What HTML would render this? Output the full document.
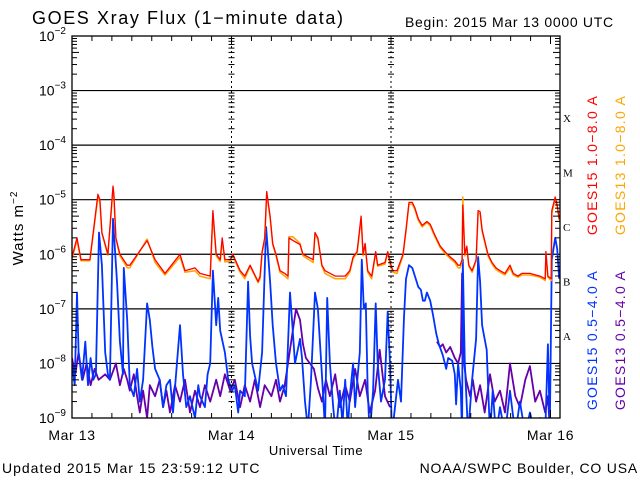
<!DOCTYPE html>
<html><head><meta charset="utf-8"><style>
body{margin:0;background:#fff;}
svg{display:block;font-family:"Liberation Sans",sans-serif;}
</style></head><body>
<svg id="chart" width="640" height="480" viewBox="0 0 640 480">
<defs><clipPath id="pc"><rect x="72" y="36" width="488" height="382"/></clipPath></defs>
<rect width="640" height="480" fill="#fff"/>
<text x="32" y="24" font-size="18" letter-spacing="1.6">GOES Xray Flux (1−minute data)</text>
<text x="405" y="27" font-size="14" letter-spacing="0.7">Begin:  2015 Mar 13 0000 UTC</text>
<g id="axes"></g>
<g id="series" clip-path="url(#pc)"></g>
<g id="frame"></g>
<text transform="translate(23,228) rotate(-90)" text-anchor="middle" font-size="15" letter-spacing="1">Watts m<tspan dy="-6" font-size="10">−2</tspan></text>
<text x="316" y="455" text-anchor="middle" font-size="13" letter-spacing="0.6">Universal Time</text>
<text x="2" y="473" font-size="14" letter-spacing="1">Updated 2015 Mar 15 23:59:12 UTC</text>
<text x="638" y="473" text-anchor="end" font-size="14" letter-spacing="0.8">NOAA/SWPC Boulder, CO USA</text>
<text transform="translate(597,165) rotate(-90)" text-anchor="middle" font-size="14" letter-spacing="1.3" fill="#ff0000">GOES15 1.0−8.0 A</text>
<text transform="translate(625,165) rotate(-90)" text-anchor="middle" font-size="14" letter-spacing="1.3" fill="#ffa500">GOES13 1.0−8.0 A</text>
<text transform="translate(597,340) rotate(-90)" text-anchor="middle" font-size="14" letter-spacing="1.3" fill="#0033ff">GOES15 0.5−4.0 A</text>
<text transform="translate(625,340) rotate(-90)" text-anchor="middle" font-size="14" letter-spacing="1.3" fill="#6600aa">GOES13 0.5−4.0 A</text>
</svg>
<script>
const yExps=[-2,-3,-4,-5,-6,-7,-8,-9];
const dayLabels=["Mar 13","Mar 14","Mar 15","Mar 16"];
const classLabels=["X","M","C","B","A"];
const redT=[0,0.75,1.35,2.7,3.9,4.2,4.5,5.4,6.17,6.3,6.6,7.2,8.3,8.7,11.3,12.5,14.0,16.25,17.0,18.5,19.26,20.8,21.2,21.7,22.3,22.6,23.0,23.8,24.2,25.3,26.0,26.8,28.0,28.3,28.6,29.0,29.3,29.8,30.2,30.7,31.3,32.0,32.5,32.65,33.25,34.3,34.76,36.3,36.56,37.0,37.6,38.07,39.6,41.1,41.8,42.3,42.9,43.5,43.8,44.1,44.5,45.1,45.7,46.0,47.1,47.5,48.0,48.3,48.9,49.8,50.26,50.7,51.2,51.6,52.1,52.7,53.4,53.9,54.6,55.4,56.1,56.9,57.6,58.1,58.4,58.7,58.8,59.1,59.4,59.7,60.2,60.8,61.1,61.4,61.7,62.1,62.6,63.2,63.8,64.4,65.15,65.9,66.4,67.1,67.7,68.9,70.4,71.2,71.3,71.6,72.1,72.2,72.7,73.0,73.3];
const redV=[-6.05,-5.7,-6.1,-6.1,-4.9,-5.0,-5.6,-6.0,-4.75,-4.9,-5.7,-6.0,-6.2,-6.2,-5.75,-6.1,-6.35,-6.0,-6.3,-6.25,-6.35,-6.4,-5.2,-6.0,-6.1,-5.7,-6.1,-6.1,-6.0,-6.3,-6.4,-6.2,-6.5,-6.4,-5.95,-5.7,-4.85,-5.3,-5.8,-6.0,-6.3,-6.35,-6.4,-5.7,-5.75,-5.82,-6.0,-6.1,-5.6,-5.7,-6.2,-6.3,-6.4,-6.4,-6.3,-6.05,-5.95,-5.3,-6.0,-5.8,-6.3,-6.4,-5.95,-6.2,-6.15,-5.95,-6.2,-6.3,-6.3,-6.0,-5.55,-5.05,-5.05,-5.15,-5.35,-5.47,-5.4,-5.45,-5.65,-5.85,-5.95,-6.05,-6.12,-6.2,-6.2,-6.1,-5.1,-6.0,-5.85,-6.2,-6.3,-6.1,-5.2,-5.22,-5.55,-5.75,-6.0,-6.15,-6.25,-6.3,-6.35,-6.2,-6.35,-6.4,-6.35,-6.35,-6.4,-6.45,-5.95,-6.4,-6.45,-5.2,-4.95,-5.1,-5.35];
const orangeV=[-6.08,-5.75,-6.12,-6.12,-4.95,-5.05,-5.62,-6.02,-4.8,-4.95,-5.72,-6.03,-6.25,-6.25,-5.72,-6.15,-6.38,-6.05,-6.33,-6.3,-6.4,-6.45,-5.25,-6.03,-6.13,-5.75,-6.14,-6.13,-6.03,-6.33,-6.45,-6.22,-6.52,-6.45,-5.98,-5.75,-4.9,-5.33,-5.82,-6.03,-6.33,-6.4,-6.45,-5.68,-5.68,-5.8,-6.03,-6.15,-5.63,-5.73,-6.22,-6.35,-6.45,-6.45,-6.33,-6.08,-5.98,-5.35,-6.03,-5.82,-6.33,-6.45,-5.98,-6.22,-6.18,-5.98,-6.25,-6.33,-6.35,-6.03,-5.58,-5.08,-5.08,-5.18,-5.38,-5.5,-5.42,-5.48,-5.68,-5.88,-5.98,-6.08,-6.15,-6.25,-6.25,-6.12,-4.95,-6.03,-5.88,-6.22,-6.33,-6.13,-5.25,-5.25,-5.58,-5.78,-6.03,-6.18,-6.28,-6.33,-6.38,-6.25,-6.38,-6.42,-6.38,-6.38,-6.42,-6.48,-5.98,-6.42,-6.48,-5.25,-5.0,-5.12,-5.38];
const blueT=[0,0.4,0.75,1.0,1.5,2.0,2.4,2.8,3.2,3.6,4.06,4.5,5.0,5.4,5.7,6.17,6.77,7.2,7.67,7.8,8.3,8.7,9.3,9.8,10.2,10.7,11.3,11.7,12.1,12.5,13.2,13.7,14.2,14.75,15.2,16.25,16.7,17.2,17.75,18.5,19.0,19.26,20.0,20.4,20.8,21.2,21.7,22.0,22.3,23.0,23.5,24.1,24.5,25.0,25.3,26.0,26.5,26.8,27.1,28.0,28.6,29.2,29.8,30.2,30.7,31.3,31.7,32.2,32.8,33.1,33.55,34.3,34.6,35.06,35.5,35.96,36.56,37.0,37.6,38.07,38.4,38.8,39.3,39.7,40.3,40.7,41.1,41.5,41.8,42.3,42.6,43.0,43.3,43.6,43.9,44.2,44.5,44.8,45.3,45.7,46.0,46.5,47.1,47.5,47.85,48.15,48.6,49.05,49.5,49.95,50.26,50.7,51.2,51.6,52.1,52.5,52.8,53.1,53.4,53.9,54.3,54.8,55.2,55.8,56.3,56.6,57.2,57.6,57.8,58.1,58.5,58.7,58.8,59.1,59.6,60.2,60.8,61.1,61.4,61.7,62.0,62.4,62.7,62.9,63.3,63.8,64.4,65.15,65.9,66.7,67.4,68.2,68.9,69.7,70.4,71.2,71.6,71.9,72.2,72.7,73.0,73.3];
const blueV=[-8.0,-8.4,-6.7,-7.8,-8.3,-7.6,-8.4,-7.9,-8.3,-8.2,-5.6,-6.2,-7.8,-8.2,-8.3,-5.35,-6.5,-7.6,-8.2,-6.25,-7.2,-8.4,-8.6,-8.1,-8.7,-8.3,-6.9,-7.2,-7.7,-8.1,-8.3,-8.8,-8.4,-8.3,-8.9,-7.3,-8.2,-8.8,-8.6,-9.0,-8.4,-8.6,-8.8,-8.2,-8.0,-6.3,-7.3,-6.8,-7.4,-7.8,-8.3,-8.5,-8.4,-8.9,-8.5,-8.6,-6.5,-7.5,-8.0,-8.5,-7.8,-5.5,-6.5,-7.3,-8.0,-8.5,-8.4,-8.6,-6.7,-7.2,-8.0,-7.55,-7.9,-8.7,-9.2,-8.3,-6.7,-7.0,-8.2,-9.2,-6.8,-8.0,-8.8,-9.3,-8.5,-9.1,-8.3,-9.2,-8.6,-8.0,-8.8,-8.2,-7.8,-6.1,-7.0,-6.9,-8.5,-9.3,-8.5,-6.9,-8.0,-8.7,-8.3,-7.05,-8.0,-9.3,-8.8,-8.3,-8.7,-7.15,-6.45,-6.2,-6.25,-6.4,-6.6,-6.65,-6.85,-6.85,-6.7,-6.85,-7.1,-7.45,-7.65,-7.85,-8.1,-7.9,-7.95,-8.2,-8.75,-8.0,-8.5,-9.3,-6.1,-8.0,-9.3,-8.3,-7.55,-6.05,-6.5,-7.3,-7.5,-7.75,-8.7,-9.3,-8.5,-9.3,-8.8,-9.3,-8.5,-9.3,-8.7,-9.3,-8.9,-9.3,-9.0,-9.3,-7.65,-9.2,-6.1,-5.7,-5.9,-6.45];
const purpleT=[0,0.5,1.0,1.6,2.2,2.8,3.4,4.0,5.0,5.7,6.6,7.2,7.8,8.3,8.7,9.3,9.8,10.2,10.7,11.3,11.7,12.5,13.2,13.7,14.2,14.75,15.5,16.25,17.0,17.75,18.5,19.26,20.0,20.8,21.7,22.3,23.0,23.8,24.5,25.3,26.0,26.8,27.5,28.3,29.0,30.0,30.7,31.3,32.0,32.5,33.1,33.7,34.3,34.76,35.2,35.8,36.4,37.0,37.6,38.2,38.8,39.6,40.3,41.1,41.8,42.6,43.3,44.1,44.8,45.6,46.3,47.1,47.85,51.0,54.9,55.4,55.8,56.3,56.9,57.6,58.1,58.5,58.7,59.0,59.3,59.9,60.3,60.8,61.4,62.1,62.9,63.6,64.4,65.15,65.9,66.7,67.4,68.2,68.9,69.7,70.4,71.2,71.6,71.9];
const purpleV=[-7.9,-8.2,-7.8,-8.3,-8.0,-8.4,-8.1,-8.3,-8.2,-8.3,-8.0,-8.4,-8.1,-8.3,-8.5,-8.2,-8.6,-8.9,-8.5,-9.0,-8.4,-8.6,-8.3,-8.8,-8.5,-8.9,-8.4,-8.7,-8.3,-8.9,-8.5,-8.8,-8.4,-8.7,-8.3,-8.6,-8.2,-8.5,-8.3,-8.8,-8.4,-8.7,-8.3,-8.8,-8.4,-8.6,-8.3,-8.7,-8.4,-8.0,-7.5,-7.0,-7.2,-7.65,-7.9,-8.0,-8.1,-8.45,-8.7,-8.3,-8.6,-8.2,-8.8,-8.4,-8.7,-8.1,-8.6,-8.3,-8.9,-8.5,-7.75,-8.6,-8.8,null,-7.6,-7.7,-7.65,-7.8,-7.7,-7.9,-8.0,-7.8,-6.35,-8.0,-8.3,-8.6,-8.3,-8.7,-8.4,-8.9,-8.2,-8.7,-8.5,-8.9,-8.0,-8.6,-8.8,-8.3,-8.05,-8.7,-8.5,-8.9,-8.6,-9.2];

const NS="http://www.w3.org/2000/svg";
const X0=72,X1=560,Y0=36,DEC=54.57,HR=6.646;
function xS(h){return X0+h*HR;}
function yS(l){return Y0+(-2-l)*DEC;}
function mk(tag,attrs,parent){const e=document.createElementNS(NS,tag);for(const k in attrs)e.setAttribute(k,attrs[k]);parent.appendChild(e);return e;}
const axes=document.getElementById('axes'),frame=document.getElementById('frame'),series=document.getElementById('series');

yExps.forEach((ex,i)=>{
  const y=yS(ex);
  if(ex<-2&&ex>-9){const l=mk('line',{x1:X0,x2:X1,y1:y,y2:y,stroke:'#000','stroke-width':1.2},axes);
  
  }
  const t=mk('text',{x:66,y:y+5,'text-anchor':'end','font-size':14},axes);
  
  
  t.textContent='10';
  const s=mk('tspan',{dy:-7,'font-size':10},t);s.textContent='−'+(-ex);
  if(ex>-9){for(let m=2;m<=9;m++){const ym=yS(ex-1+Math.log10(m));
    const len=(m===5)?7:5;
    mk('line',{x1:X0,x2:X0+len,y1:ym,y2:ym,stroke:'#000'},frame);
    mk('line',{x1:X1,x2:X1-len,y1:ym,y2:ym,stroke:'#000'},frame);
    [1,2].forEach(d=>{const xd=xS(d*24);mk('line',{x1:xd-3,x2:xd+3,y1:ym,y2:ym,stroke:'#000'},frame);});
  }}
});
[1,2].forEach(d=>{const xd=xS(d*24);const l=mk('line',{x1:xd,x2:xd,y1:Y0,y2:418,stroke:'#000','stroke-width':1,'stroke-dasharray':'2,3'},frame);

});
for(let h=0;h<=72;h+=3){const x=xS(h);const len=(h%24===0)?8:5;
  mk('line',{x1:x,x2:x,y1:Y0,y2:Y0+len,stroke:'#000'},frame);
  mk('line',{x1:x,x2:x,y1:418,y2:418-len,stroke:'#000'},frame);}
dayLabels.forEach((d,i)=>{const t=mk('text',{x:xS(i*24),y:440,'text-anchor':'middle','font-size':14,'letter-spacing':0.6},axes);
  
  
  t.textContent=d;});
classLabels.forEach((c,i)=>{const t=mk('text',{x:563,y:yS(-3.5-i)+4,'font-size':11,'font-family':'Liberation Serif, serif'},axes);
  
  
  t.textContent=c;});
mk('rect',{x:X0,y:Y0,width:X1-X0,height:418-Y0,fill:'none',stroke:'#000','stroke-width':1.3},frame);

function line(T,V,color,name,w){let d='',pen=false;
  for(let i=0;i<T.length;i++){if(V[i]===null){pen=false;continue;}
    d+=(pen?'L':'M')+xS(T[i]).toFixed(1)+','+yS(V[i]).toFixed(1);pen=true;}
  const p=mk('path',{d:d,fill:'none',stroke:color,'stroke-width':w,'stroke-linejoin':'round'},series);
  
  }
line(purpleT,purpleV,'#6600aa','series-goes13-short',1.8);
line(blueT,blueV,'#0033ff','series-goes15-short',1.8);
line(redT,orangeV,'#ffa500','series-goes13-long',1.5);
line(redT,redV,'#ff0000','series-goes15-long',1.3);
</script>
</body></html>
